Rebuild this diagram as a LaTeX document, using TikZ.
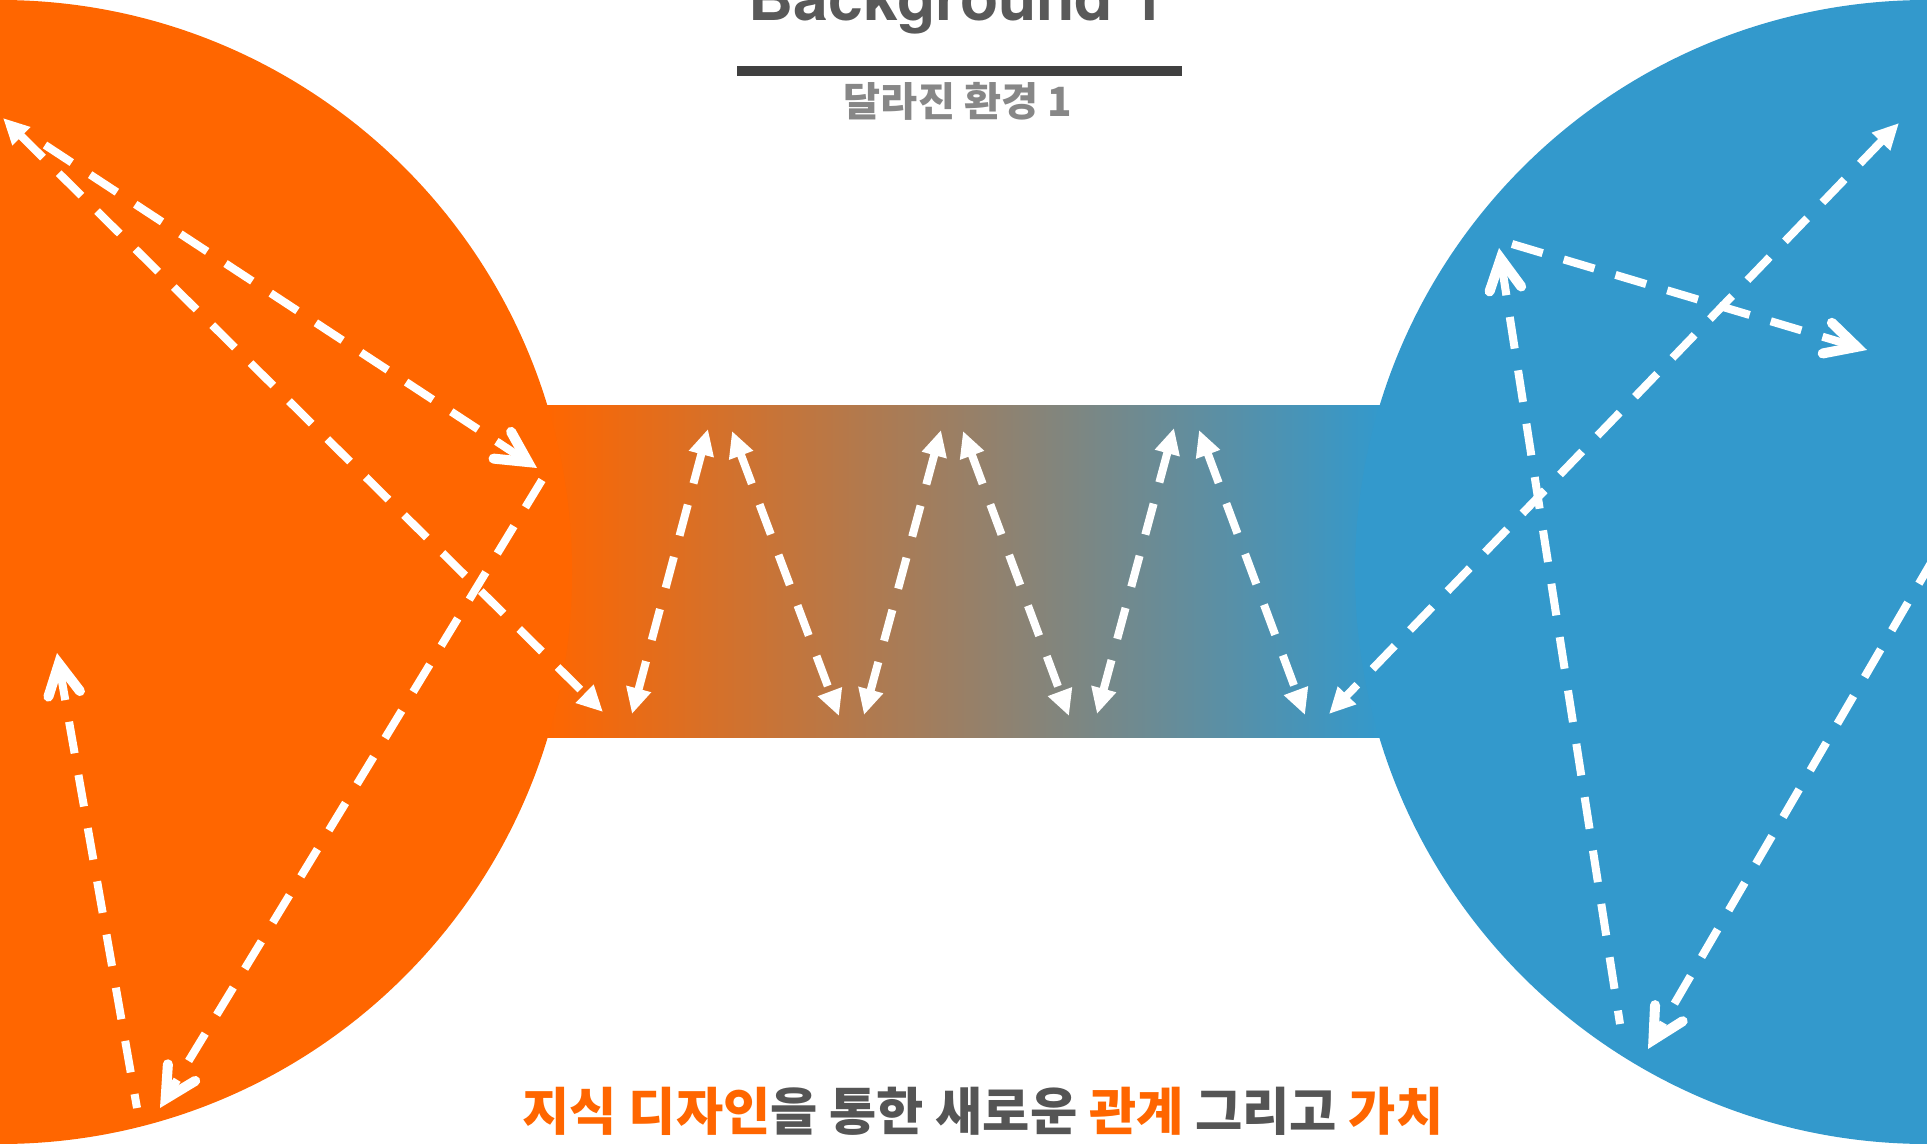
\documentclass[tikz,border=0pt]{standalone}
\usepackage{fontspec}
\usetikzlibrary{arrows.meta}
\newfontfamily\kr{Noto Sans CJK KR}
\newfontfamily\heros{TeX Gyre Heros}
\definecolor{orng}{HTML}{FF6600}
\definecolor{blu}{HTML}{3399CC}
\definecolor{tgray}{HTML}{595959}
\definecolor{sgray}{HTML}{878787}
\definecolor{rulec}{HTML}{404040}
\definecolor{bgray}{HTML}{555555}
\tikzset{
  tri/.tip={Triangle[length=19.5pt,width=18pt]},
  vee/.tip={Straight Barb[length=23pt,width=24pt,line width=7.5pt,line cap=round,line join=miter]},
  dl/.style={draw=white, line width=6pt, dash pattern=on 24pt off 16.5pt},
}
\begin{document}
\begin{tikzpicture}[x=0.75pt,y=-0.75pt]
\useasboundingbox (0,0) rectangle (1927,1144);
\clip (0,0) rectangle (1927,1144);
% gradient band
\shade[left color=orng,right color=blu] (545,406) rectangle (1382,737);
% circles
\fill[orng] (0,572) circle (572);
\fill[blu] (1927,572) circle (572);
% title
\node[anchor=base, text=tgray, inner sep=0pt, font=\heros\bfseries\fontsize{47}{50}\selectfont] (title) at (957,21) {Background 1};
\draw[rulec, line width=7.5pt] (737,71) -- (1182,71);
\node[anchor=base, text=sgray, inner sep=0pt, font=\kr\bfseries\fontsize{30.2}{34}\selectfont] (subtitle) at (958,117) {달라진 환경 1};
\node[anchor=base, text=bgray, inner sep=0pt, font=\kr\bfseries\fontsize{38.5}{42}\selectfont] (bottom) at (983,1130) {{\color{orng}지식 디자인}을 통한 새로운 {\color{orng}관계} 그리고 {\color{orng}가치}};
% coordinates
\coordinate (tl) at (3,118);
\coordinate (a1s) at (45,145);
\coordinate (a1e) at (537,468);
\coordinate (a2e) at (603,712);
\coordinate (a3s) at (542,480);
\coordinate (a3e) at (160,1108);
\coordinate (a4s) at (57,653);
\coordinate (a4e) at (137,1108);
\coordinate (z1a) at (708,429); \coordinate (z1b) at (632,714);
\coordinate (z2a) at (732,431); \coordinate (z2b) at (839,716);
\coordinate (z3a) at (941,430); \coordinate (z3b) at (864,715);
\coordinate (z4a) at (963,431); \coordinate (z4b) at (1069,716);
\coordinate (z5a) at (1174,428); \coordinate (z5b) at (1097,714);
\coordinate (z6a) at (1199,430); \coordinate (z6b) at (1305,715);
\coordinate (b1a) at (1899,123); \coordinate (b1b) at (1329,714);
\coordinate (b2s) at (1499,248); \coordinate (b2e) at (1620,1024);
\coordinate (b3s) at (1512,244); \coordinate (b3e) at (1867,350);
\coordinate (b4s) at (1935,556); \coordinate (b4e) at (1648,1049);
% arrows left
\draw[dl,-vee] (a1s) -- (a1e);
\draw[dl,tri-tri] (tl) -- (a2e);
\draw[dl,-vee] (a3s) -- (a3e);
\draw[dl,vee-] (a4s) -- (a4e);
% zigzag
\draw[dl,tri-tri] (z1a) -- (z1b);
\draw[dl,tri-tri] (z2a) -- (z2b);
\draw[dl,tri-tri] (z3a) -- (z3b);
\draw[dl,tri-tri] (z4a) -- (z4b);
\draw[dl,tri-tri] (z5a) -- (z5b);
\draw[dl,tri-tri] (z6a) -- (z6b);
% right
\draw[dl,tri-tri] (b1a) -- (b1b);
\draw[dl,vee-] (b2s) -- (b2e);
\draw[dl,-vee] (b3s) -- (b3e);
\draw[dl,-vee] (b4s) -- (b4e);
\end{tikzpicture}
\end{document}
